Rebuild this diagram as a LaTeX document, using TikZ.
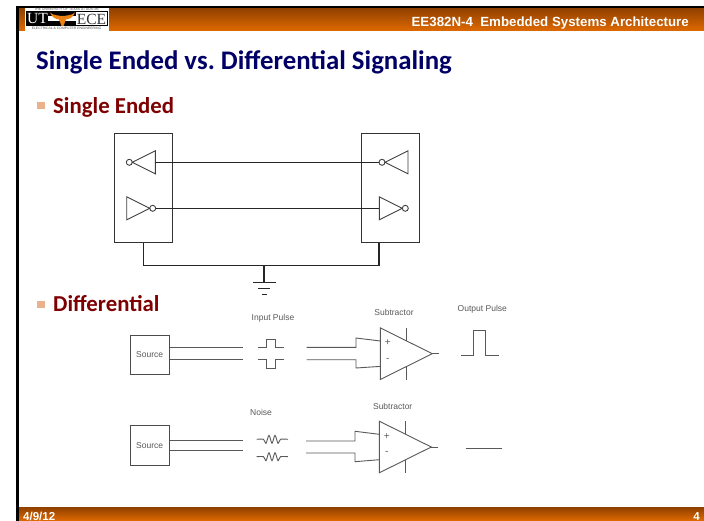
\documentclass[tikz,border=0pt]{standalone}
\usepackage{fontspec}
\setmainfont{Carlito}
\newfontfamily\arialfont{Liberation Sans}
\newfontfamily\timesfont{Liberation Serif}
\usetikzlibrary{positioning}
\definecolor{titleblue}{HTML}{000066}
\definecolor{bulletred}{HTML}{7F0000}
\definecolor{bandtop}{HTML}{8F4000}
\definecolor{bandlow}{HTML}{E06A00}
\definecolor{squaretan}{HTML}{EAB28C}
\frenchspacing
\tikzset{
  wire/.style={draw=black!85, line width=1.2pt},
  thinwire/.style={draw=black!75, line width=0.9pt},
  graywire/.style={draw=black!65, line width=0.9pt},
  unitbox/.style={draw=black!80, line width=1pt, inner sep=0pt},
  sigtext/.style={inner sep=0pt, text=black!65, font=\arialfont\fontsize{8.5}{10}\selectfont},
  headtext/.style={inner sep=0pt, text=white, font=\arialfont\bfseries\fontsize{13.3}{15}\selectfont},
  pics/notgate/.style={code={
    \draw[thinwire] (0,-11.5) -- (0,11.5) -- (23,0) -- cycle;
    \draw[thinwire] (26,0) circle (3);
    \coordinate (-in) at (0,0);
    \coordinate (-out) at (29,0);
  }},
  pics/subamp/.style={code={
    \draw[graywire] (0,-25.8) -- (0,25.8) -- (52,0) -- cycle;
    \draw[graywire] (52,0) -- (59,0);
    \draw[graywire] (26.4,-25.8) -- (26.4,-13.2);
    \draw[graywire] (26.4,13.2) -- (26.4,25.8);
    \node[sigtext, font=\arialfont\fontsize{10}{10}\selectfont] (-plus) at (7.4,-10.7) {+};
    \node[sigtext, font=\arialfont\fontsize{10}{10}\selectfont] (-minus) at (7.4,6.3) {-};
    \coordinate (-ina) at (0,-12.7);
    \coordinate (-inb) at (0,12.7);
  }}
}
\begin{document}
\begin{tikzpicture}[x=1pt,y=-1pt]
    \useasboundingbox (0,0) rectangle (704,521);
    \fill[white] (0,0) rectangle (704,521);

    % slide frame
    \shade[top color=bandtop, bottom color=bandlow] (19,8) rectangle (704,31);
    \shade[top color=bandtop, bottom color=bandlow] (19,507) rectangle (704,521);
    \fill[black] (16,6) rectangle (704,8);
    \fill[black] (16,6) rectangle (19,521);

    % logo
    \fill[white] (25,8) rectangle (108.7,31);
    \fill[black] (25.5,11) rectangle (108,26.5);
    \fill[white] (76,12) rectangle (107,25.5);
    \fill[white] (48,16) rectangle (76,21);
    \node[inner sep=0pt, text=white, font=\timesfont\fontsize{15.5}{16}\selectfont] (logout) at (37.5,19) {UT};
    \node[inner sep=0pt, text=black!80, font=\timesfont\fontsize{15.5}{16}\selectfont] (logoece) at (91.5,19) {ECE};
    \fill[orange!70!brown] (50,12.5) .. controls (54,16) and (58,15) .. (61,16) -- (64,16) .. controls (67,15) and (71,16) .. (75,12.5)
      .. controls (73,18) and (69,19) .. (66,19.5) -- (63.5,26) -- (61.5,26) -- (59,19.5) .. controls (56,19) and (52,18) .. (50,12.5) -- cycle;
    \node[inner sep=0pt, text=black!70, font=\arialfont\fontsize{3.4}{4}\selectfont] (logotop) at (66.5,9.5) {THE UNIVERSITY OF TEXAS AT AUSTIN};
    \node[inner sep=0pt, text=black!70, font=\arialfont\fontsize{3.4}{4}\selectfont] (logolow) at (66.5,28.5) {ELECTRICAL \& COMPUTER ENGINEERING};

    % heading and footer
    \node[headtext, anchor=base east] (course) at (689,26.5) {EE382N-4\ \ Embedded Systems Architecture};
    \node[headtext, font=\arialfont\bfseries\fontsize{11.5}{13}\selectfont, anchor=base west] (datelabel) at (23,520) {4/9/12};
    \node[headtext, font=\arialfont\bfseries\fontsize{11.5}{13}\selectfont, anchor=base east] (pagelabel) at (700,520) {4};
    \node[inner sep=0pt, anchor=base west, text=titleblue, font=\bfseries\fontsize{26.8}{30}\selectfont] (slidetitle) at (36,70) {Single Ended vs. Differential Signaling};

    \fill[squaretan] (37,102) rectangle (44.7,109.5);
    \node[inner sep=0pt, anchor=base west, text=bulletred, font=\bfseries\fontsize{22.8}{26}\selectfont] (singlehead) at (53,114) {Single Ended};
    \fill[squaretan] (37,301) rectangle (44.7,308.5);
    \node[inner sep=0pt, anchor=base west, text=bulletred, font=\bfseries\fontsize{22.8}{26}\selectfont] (diffhead) at (53,312) {Differential};

    % single ended
    \node[unitbox, minimum width=57.6pt, minimum height=109.4pt] (leftbox) at (143.5,188) {};
    \node[unitbox, minimum width=57.6pt, minimum height=109.4pt] (rightbox) at (390.5,188) {};
    \pic[xscale=-1] (gatea) at (155.3,162.3) {notgate};
    \pic (gateb) at (126.7,208.3) {notgate};
    \pic[xscale=-1] (gatec) at (408,162.3) {notgate};
    \pic (gated) at (379.3,208.3) {notgate};
    \draw[wire] (gatea-in) -- (gatec-out);
    \draw[wire] (gateb-out) -- (gated-in);

    \coordinate (gndl) at (143.3,265.7);
    \coordinate (gndr) at (379,265.7);
    \coordinate (gndm) at (264,265.7);
    \coordinate (gndb) at (264,282.7);
    \draw[wire] (leftbox.south -| gndl) -- (gndl) -- (gndr) -- (rightbox.south -| gndr);
    \draw[wire] (gndm) -- (gndb);
    \draw[wire] (253,282.7) -- (276,282.7);
    \draw[wire] (258.3,288.7) -- (270,288.7);
    \draw[wire] (261.7,294.7) -- (267,294.7);

    % differential, pulse
    \node[unitbox, draw=black!70, minimum width=39.3pt, minimum height=39.3pt, sigtext] (sourcea) at (149.7,354.7) {Source};
    \node[sigtext] (inputlabel) at (273,318.7) {Input Pulse};
    \node[sigtext] (subla) at (394,312.7) {Subtractor};
    \node[sigtext] (outputlabel) at (482.3,309) {Output Pulse};
    \coordinate (aend) at (243.3,347.3);
    \coordinate (bend) at (243.3,359.7);
    \draw[graywire] (sourcea.east |- aend) -- (aend);
    \draw[graywire] (sourcea.east |- bend) -- (bend);
    \draw[graywire] (258,347.3) -- (266.3,347.3) -- (266.3,339) -- (275,339) -- (275,347.3) -- (283.7,347.3);
    \draw[graywire] (258,359.7) -- (266.3,359.7) -- (266.3,368) -- (275,368) -- (275,359.7) -- (283.7,359.7);
    \pic (ampa) at (380.3,353.7) {subamp};
    \draw[graywire] (306.7,347.3) -- (356,347.3) -- (356,338) -- (ampa-ina);
    \draw[graywire] (306.7,359.7) -- (356,359.7) -- (356,368) -- (ampa-inb);
    \draw[graywire] (461.3,355) -- (473.7,355) -- (473.7,330) -- (485,330) -- (485,355) -- (499,355);

    % differential, noise
    \node[unitbox, draw=black!70, minimum width=39.3pt, minimum height=39.7pt, sigtext] (sourceb) at (149.7,445.8) {Source};
    \node[sigtext] (noiselabel) at (261,412.3) {Noise};
    \node[sigtext] (sublb) at (392.7,406.3) {Subtractor};
    \coordinate (cend) at (243.3,440.3);
    \coordinate (dend) at (243.3,450.7);
    \draw[graywire] (sourceb.east |- cend) -- (cend);
    \draw[graywire] (sourceb.east |- dend) -- (dend);
    \foreach \y in {439.3,456.7}
      \draw[graywire, smooth] plot coordinates {(256.7,\y) (263.5,\y) (266,\y+4) (269,\y-4) (272,\y+4) (275,\y-4) (278,\y+4) (280.5,\y) (288,\y)};
    \pic (ampb) at (379.3,447) {subamp};
    \draw[graywire] (306,441) -- (355,441) -- (355,431.3) -- (ampb-ina);
    \draw[graywire] (306,453) -- (355,453) -- (355,461.7) -- (ampb-inb);
    \draw[graywire] (465.7,448.7) -- (502.3,448.7);

\end{tikzpicture}
\end{document}
